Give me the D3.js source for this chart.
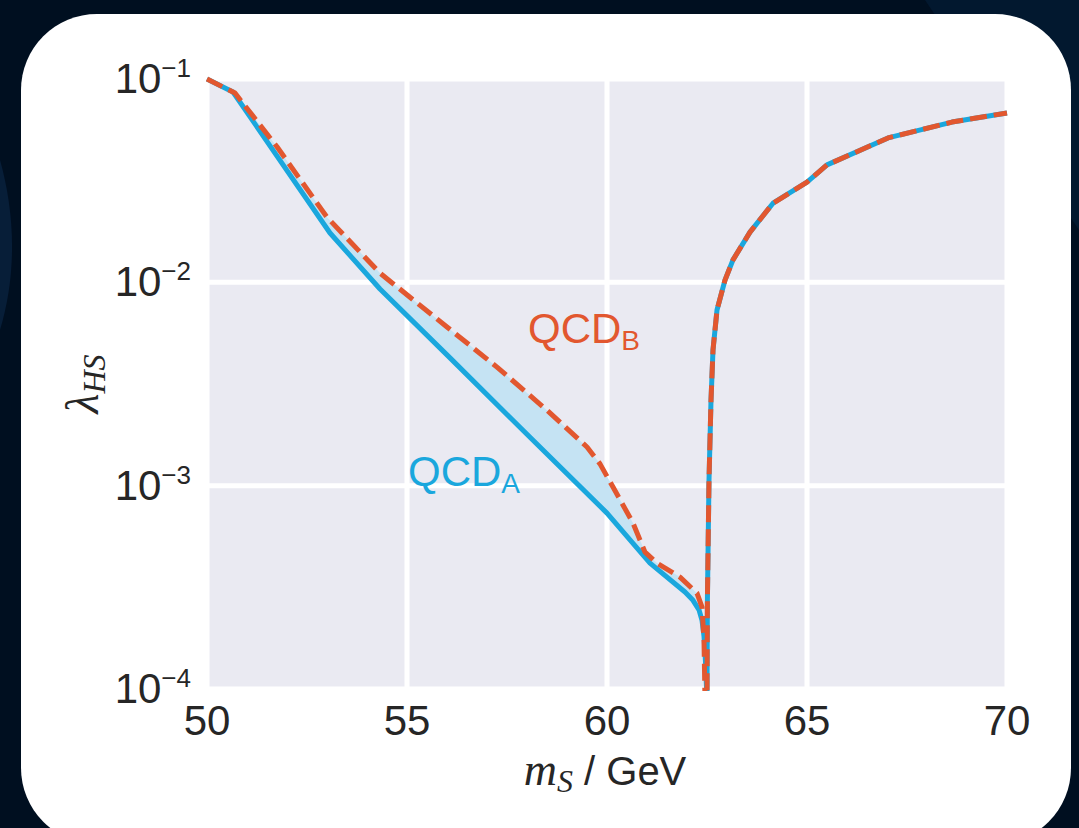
<!DOCTYPE html>
<html lang="en">
<head>
<meta charset="UTF-8">
<title>lambda_HS vs m_S</title>
<style>
  body { margin: 0; background: #000f20; }
  svg { display: block; }
  .tick-label { font-family: "Liberation Sans", Arial, sans-serif; fill: #262626; }
  .grid-line { stroke: #ffffff; stroke-width: 5px; }
  .line-a { fill: none; stroke: #1aa7dd; stroke-width: 5px; stroke-linejoin: round; }
  .line-b { fill: none; stroke: #e2572f; stroke-width: 5px; stroke-dasharray: 17,7; stroke-linejoin: round; }
  .band { fill: #c5e3f3; stroke: none; }
</style>
</head>
<body>
<div id="container"></div>
<script src="https://d3js.org/d3.v7.min.js"></script>
<script>
// QCD_A (solid), left branch down to the resonance
const massA = [50, 50.65, 53.075, 54.325, 56.075, 58.075, 60.0, 61.075, 61.95, 62.15, 62.3, 62.375, 62.425, 62.46, 62.485, 62.5];
const lamA  = [0.1, 0.0863, 0.01748, 0.00927, 0.00425, 0.00173, 0.000733, 0.000416, 0.000300, 0.000273, 0.000245, 0.000218, 0.000182, 0.000139, 0.000105, 0.0000883];

// QCD_B (dashed), left branch
const massB = [50, 50.7, 51.75, 53.0, 54.325, 56.0, 57.25, 58.5, 59.5, 59.825, 60.15, 60.65, 60.95, 61.25, 61.825, 62.25, 62.375, 62.425, 62.45];
const lamB  = [0.1, 0.0853, 0.0464, 0.0209, 0.0111, 0.00603, 0.00383, 0.00235, 0.00155, 0.00128, 0.000984, 0.000655, 0.000471, 0.000416, 0.000355, 0.000296, 0.000253, 0.000174, 0.0000883];

// right branch, same for both
const massR = [62.5, 62.51, 62.55, 62.6, 62.65, 62.75, 62.95, 63.15, 63.575, 64.15, 65.0, 65.5, 67.025, 68.625, 70];
const lamR  = [0.0000883, 0.000273, 0.001064, 0.002635, 0.004645, 0.00731, 0.01026, 0.0129, 0.01766, 0.0245, 0.0311, 0.0378, 0.0513, 0.0614, 0.0681];

const xTicks = [50, 55, 60, 65, 70];
const yTicks = [1e-4, 1e-3, 1e-2, 1e-1];
const yTickExp = ["\u22124", "\u22123", "\u22122", "\u22121"];

const labelA = { name: "QCD", sub: "A", m: 55.025, l: 0.000995 };
const labelB = { name: "QCD", sub: "B", m: 58.025, l: 0.00502 };

const W = 1079, H = 828;
const svg = d3.select("#container").append("svg")
  .attr("width", W).attr("height", H);

// slide background
svg.append("rect").attr("width", W).attr("height", H).attr("fill", "#000f20");
svg.append("path").attr("d", "M925,0 L1079,0 L1079,230 Z").attr("fill", "#02182f");
svg.append("path").attr("d", "M0,160 C14,210 18,270 0,330 Z").attr("fill", "#071e38");

// white card
svg.append("rect")
  .attr("x", 21).attr("y", 14).attr("width", 1050).attr("height", 830)
  .attr("rx", 76).attr("ry", 76).attr("fill", "#ffffff");

const x = d3.scaleLinear().domain([50, 70]).range([207, 1007]);
const y = d3.scaleLog().domain([1e-4, 1e-1]).range([689, 79]);

// axes background
svg.append("rect")
  .attr("x", x(50)).attr("y", y(1e-1))
  .attr("width", x(70) - x(50)).attr("height", y(1e-4) - y(1e-1))
  .attr("fill", "#eaeaf2");

// grid
const grid = svg.append("g");
grid.selectAll(".gx").data(xTicks).enter().append("line")
  .attr("class", "grid-line")
  .attr("x1", d => x(d)).attr("x2", d => x(d))
  .attr("y1", y(1e-1)).attr("y2", y(1e-4));
grid.selectAll(".gy").data(yTicks).enter().append("line")
  .attr("class", "grid-line")
  .attr("x1", x(50)).attr("x2", x(70))
  .attr("y1", d => y(d)).attr("y2", d => y(d));

svg.append("clipPath").attr("id", "plot-clip").append("rect")
  .attr("x", x(50) - 10).attr("y", y(1e-1) - 10)
  .attr("width", x(70) - x(50) + 20).attr("height", y(1e-4) - y(1e-1) + 12);

const plot = svg.append("g").attr("clip-path", "url(#plot-clip)");

const ptsA = massA.map((m, i) => [m, lamA[i]]);
const ptsB = massB.map((m, i) => [m, lamB[i]]);
const ptsR = massR.map((m, i) => [m, lamR[i]]);

const line = d3.line().x(d => x(d[0])).y(d => y(d[1]));

// shaded band between the two left branches
plot.append("path")
  .attr("class", "band")
  .attr("d", line(ptsA.concat(ptsB.slice().reverse())) + "Z");

plot.append("path").attr("class", "line-a").attr("d", line(ptsA.concat(ptsR)));
plot.append("path").attr("class", "line-b").attr("d", line(ptsB.concat(ptsR)));

// x tick labels
svg.append("g").selectAll("text").data(xTicks).enter().append("text")
  .attr("class", "tick-label")
  .attr("x", d => x(d)).attr("y", 735)
  .attr("text-anchor", "middle")
  .style("font-size", "42px")
  .text(d => d);

// y tick labels (10^-n)
const yl = svg.append("g").selectAll("text").data(yTicks).enter().append("text")
  .attr("class", "tick-label")
  .attr("x", 191).attr("y", d => y(d) + 14)
  .attr("text-anchor", "end");
yl.append("tspan").style("font-size", "42px").text("10");
yl.append("tspan").style("font-size", "26px").attr("dy", -16)
  .text((d, i) => yTickExp[i]);

// curve labels
function curveLabel(lab, color) {
  const t = svg.append("text")
    .attr("x", x(lab.m)).attr("y", y(lab.l))
    .style("font-family", "Liberation Sans, Arial, sans-serif")
    .attr("fill", color);
  t.append("tspan").style("font-size", "42px").text(lab.name);
  t.append("tspan").style("font-size", "28px").attr("dy", 7).text(lab.sub);
}
curveLabel(labelB, "#e2572f");
curveLabel(labelA, "#1aa7dd");

// x axis label
const xl = svg.append("text")
  .attr("x", 605).attr("y", 785)
  .attr("text-anchor", "middle")
  .attr("fill", "#262626");
xl.append("tspan").style("font-family", "Liberation Serif, serif").style("font-style", "italic")
  .style("font-size", "46px").text("m");
xl.append("tspan").style("font-family", "Liberation Serif, serif").style("font-style", "italic")
  .style("font-size", "32px").attr("dy", 7).text("S");
xl.append("tspan").style("font-family", "Liberation Sans, Arial, sans-serif")
  .style("font-size", "40px").attr("dy", -7).text(" / GeV");

// y axis label
const ylab = svg.append("text")
  .attr("transform", "translate(98,384) rotate(-90)")
  .attr("text-anchor", "middle")
  .attr("fill", "#262626")
  .style("font-family", "Liberation Serif, serif").style("font-style", "italic");
ylab.append("tspan").style("font-size", "46px").text("\u03bb");
ylab.append("tspan").style("font-size", "32px").attr("dy", 7).text("HS");
</script>
</body>
</html>
